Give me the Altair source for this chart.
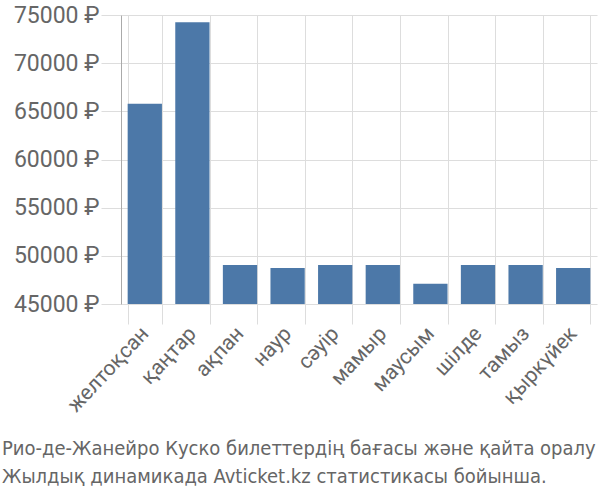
import altair as alt
import pandas as pd

months = ["желтоқсан", "қаңтар", "ақпан", "наур", "сәуір", "мамыр",
          "маусым", "шілде", "тамыз", "қыркүйек"]
prices = [65800, 74250, 49050, 48750, 49050, 49050, 47100, 49050, 49050, 48750]
y_ticks = [45000, 50000, 55000, 60000, 65000, 70000, 75000]
title_lines = ["Рио-де-Жанейро Куско билеттердің бағасы және қайта оралу",
               "Жылдық динамикада Avticket.kz статистикасы бойынша."]

df = pd.DataFrame({"month": months, "price": prices})

chart = alt.Chart(df).mark_bar(color="#4c78a8", clip=True).encode(
    x=alt.X("month:N", sort=months, title=None,
            scale=alt.Scale(paddingInner=0.28, paddingOuter=0.14),
            axis=alt.Axis(labelAngle=-47, labelAlign="right", labelBaseline="middle",
                          labelFont="Roboto", labelFontSize=21, labelColor="#666",
                          tickSize=20, tickColor="#ddd", tickBand="extent",
                          grid=True, gridColor="#ddd", domain=False, labelPadding=6)),
    y=alt.Y("price:Q", title=None,
            scale=alt.Scale(domain=[45000, 75000], zero=False, nice=False),
            axis=alt.Axis(values=y_ticks, labelExpr="datum.value + ' ₽'",
                          labelFont="Roboto", labelFontSize=23, labelColor="#666",
                          tickSize=20, tickColor="#ddd", gridColor="#ddd",
                          domainColor="#aaa", labelPadding=2)),
).properties(
    width=476, height=289,
    padding={"left": 121, "top": 15, "right": 3, "bottom": 196},
    autosize="none",
    title=alt.TitleParams(text=title_lines, orient="bottom", anchor="start",
                          frame="group", dx=-119, offset=23,
                          font="DejaVu Sans Condensed, Roboto", fontSize=20,
                          fontWeight="normal", color="#666", lineHeight=28.5),
).configure_view(stroke=None)

chart.save("out.html", embed_options={"renderer": "svg", "actions": False})
